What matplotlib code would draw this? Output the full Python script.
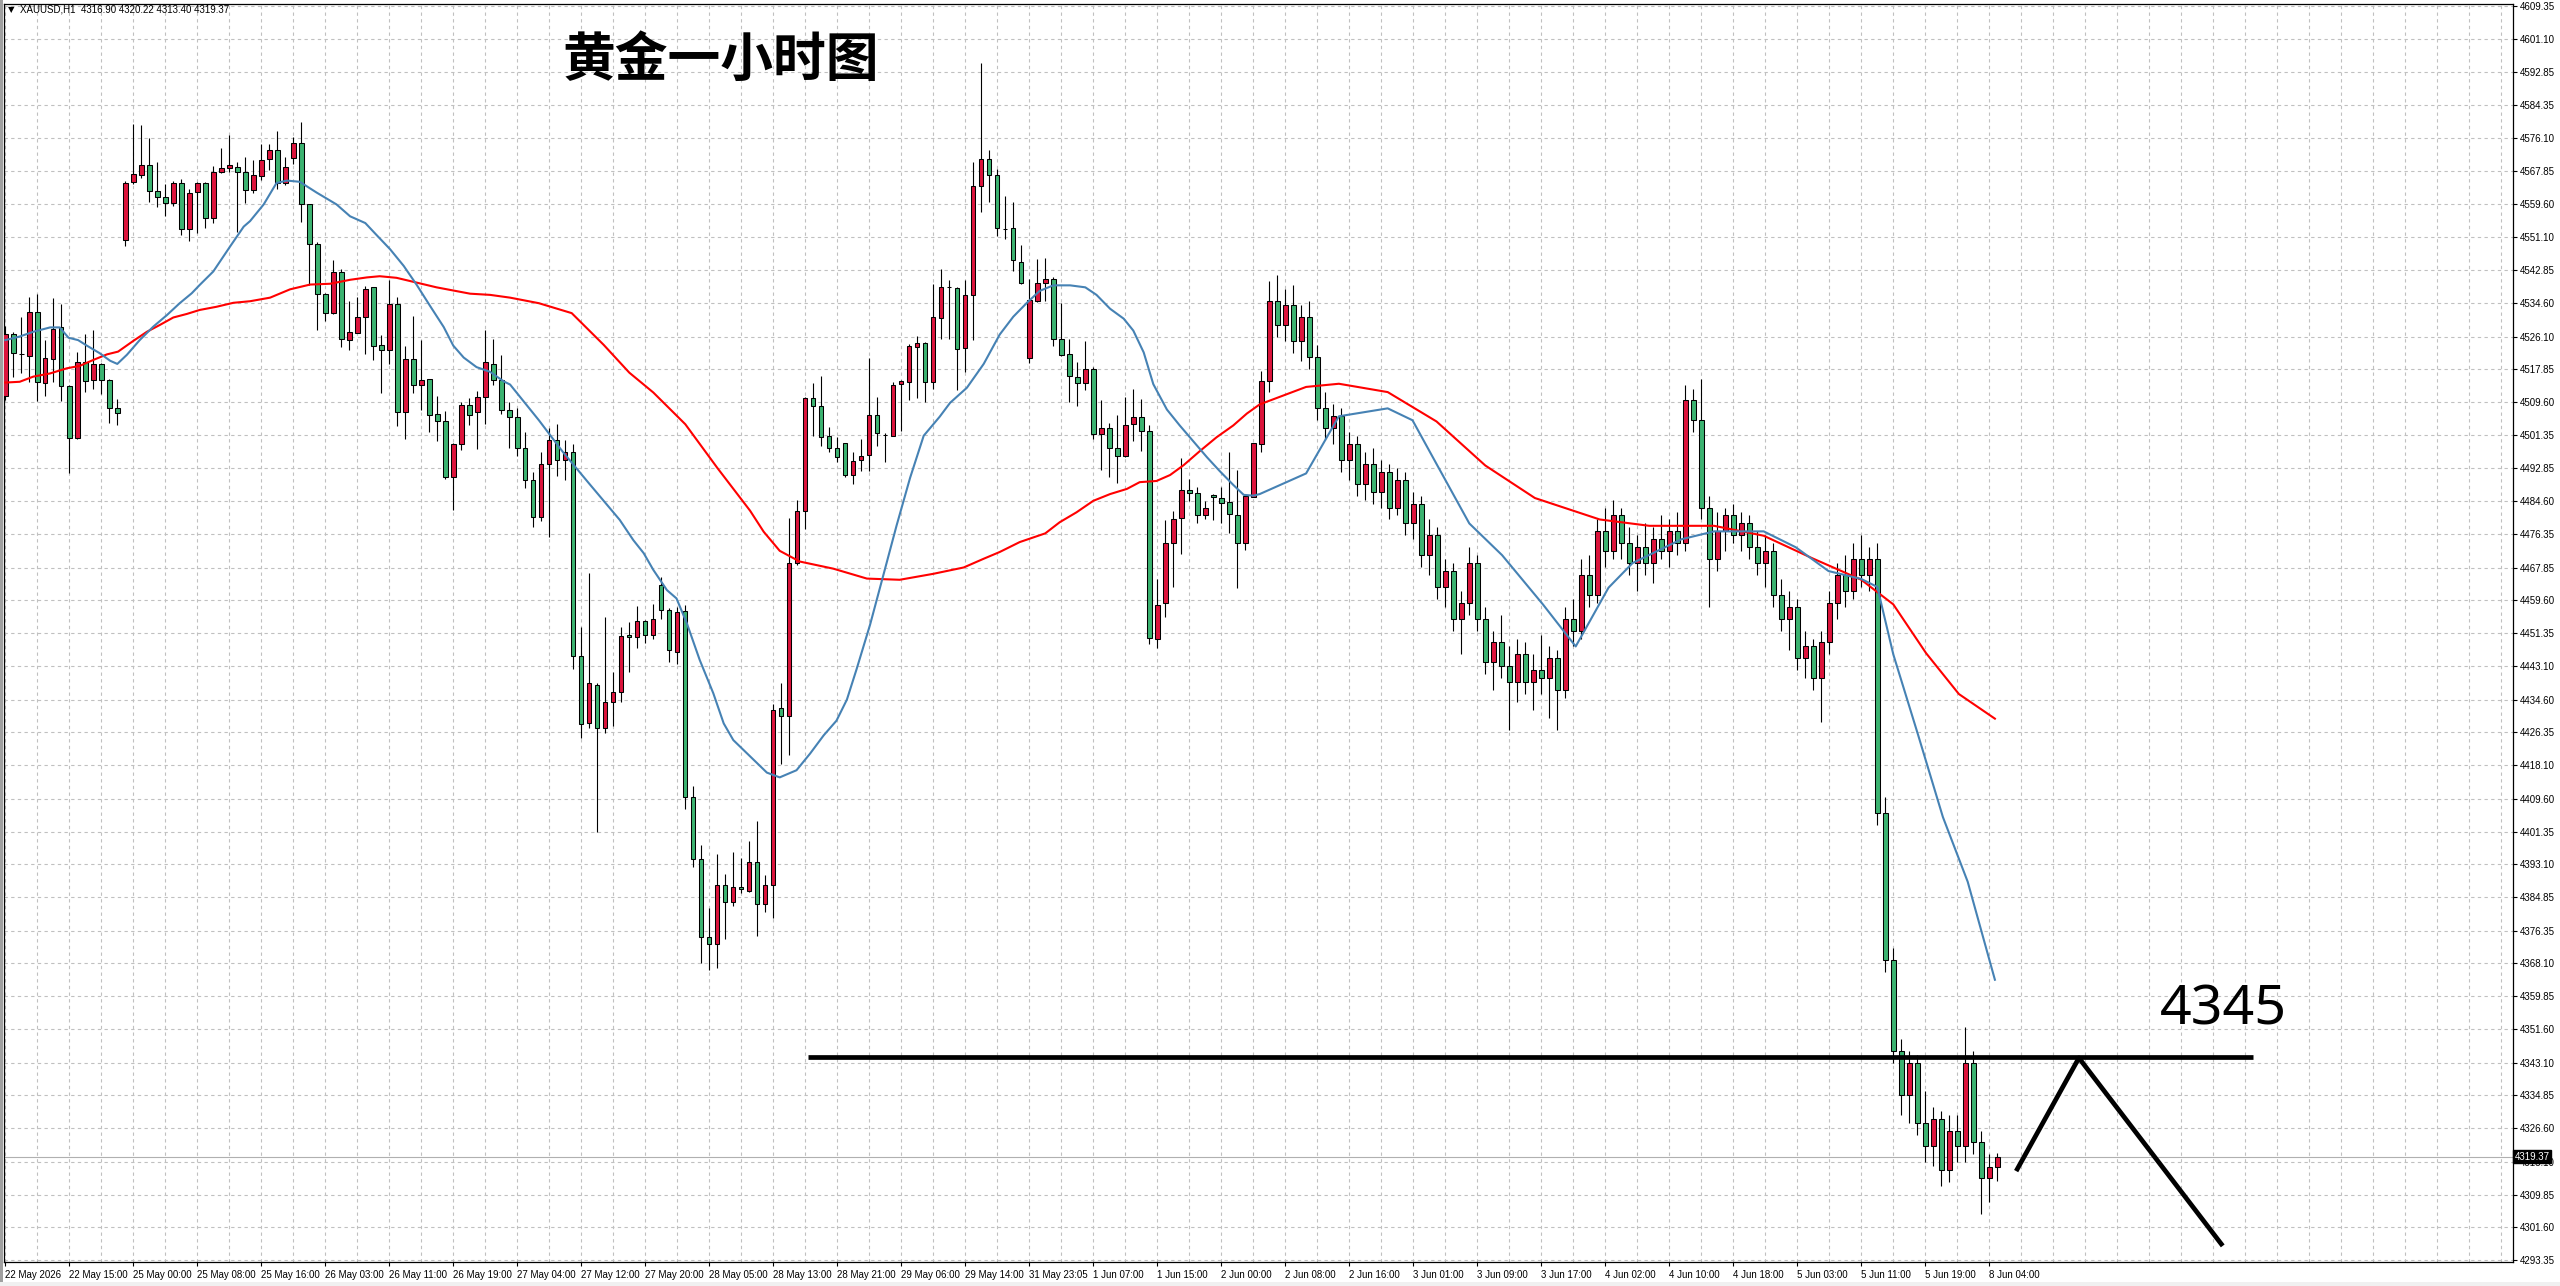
import matplotlib
matplotlib.use("Agg")
import matplotlib.pyplot as plt
import matplotlib.transforms as mtransforms
from matplotlib.patches import Rectangle

# hourly XAUUSD bars (open, high, low, close)
opens = [4511.1, 4526.7, 4521.7, 4521.3, 4532.2, 4514.3, 4520.4, 4528.4, 4513.6, 4500.5,
         4519.8, 4515.1, 4519.1, 4515.1, 4508.0, 4550.4, 4565.0, 4566.7, 4569.3, 4562.7,
         4561.2, 4559.7, 4564.7, 4553.2, 4562.5, 4564.7, 4555.9, 4567.5, 4568.5, 4568.9,
         4567.5, 4563.0, 4566.6, 4570.8, 4573.2, 4564.9, 4571.1, 4574.8, 4559.6, 4549.3,
         4536.8, 4532.1, 4542.4, 4525.2, 4527.1, 4530.9, 4538.5, 4524.0, 4522.6, 4534.4,
         4507.1, 4520.4, 4514.0, 4515.3, 4506.5, 4504.7, 4490.8, 4499.1, 4508.8, 4507.0,
         4510.8, 4519.3, 4515.1, 4507.7, 4505.7, 4498.0, 4490.0, 4480.5, 4494.0, 4500.0,
         4495.0, 4497.0, 4445.7, 4428.6, 4438.4, 4427.4, 4433.9, 4436.4, 4450.9, 4450.3,
         4454.4, 4450.9, 4463.4, 4457.3, 4446.7, 4457.0, 4410.0, 4394.4, 4374.7, 4372.9,
         4388.0, 4383.5, 4387.5, 4386.4, 4393.6, 4383.2, 4387.8, 4432.4, 4430.4, 4469.1,
         4482.2, 4510.6, 4508.7, 4501.1, 4497.9, 4499.3, 4491.1, 4495.1, 4496.3, 4506.4,
         4501.4, 4501.1, 4514.1, 4514.7, 4523.5, 4524.4, 4514.7, 4530.7, 4538.6, 4538.4,
         4523.2, 4536.6, 4564.1, 4570.9, 4566.7, 4553.2, 4553.4, 4545.0, 4520.6, 4535.1,
         4539.5, 4540.5, 4525.4, 4521.6, 4516.0, 4514.3, 4518.0, 4501.5, 4503.0, 4498.0,
         4495.9, 4504.0, 4505.9, 4502.2, 4449.9, 4459.0, 4474.0, 4480.3, 4487.4, 4486.6,
         4481.0, 4486.2, 4485.5, 4484.4, 4481.2, 4474.0, 4485.7, 4499.0, 4515.0, 4535.0,
         4529.0, 4534.0, 4525.0, 4531.0, 4521.0, 4508.0, 4503.0, 4506.0, 4495.0, 4499.0,
         4489.0, 4494.0, 4487.0, 4492.0, 4483.0, 4490.0, 4479.0, 4484.0, 4471.0, 4476.0,
         4463.0, 4467.0, 4455.0, 4459.0, 4469.0, 4455.0, 4444.0, 4449.0, 4443.0, 4439.0,
         4446.0, 4439.0, 4442.0, 4440.0, 4445.0, 4437.0, 4455.0, 4452.0, 4466.0, 4461.0,
         4477.0, 4472.0, 4481.0, 4474.0, 4469.0, 4473.0, 4469.0, 4475.0, 4472.0, 4477.0,
         4474.0, 4510.0, 4505.0, 4483.0, 4470.0, 4477.0, 4481.0, 4476.0, 4479.0, 4473.0,
         4469.0, 4472.0, 4461.0, 4455.0, 4458.0, 4445.0, 4448.0, 4440.0, 4449.0, 4459.0,
         4466.0, 4462.0, 4470.0, 4466.0, 4470.0, 4406.0, 4369.0, 4346.0, 4335.0, 4343.0,
         4328.0, 4322.0, 4329.0, 4316.0, 4326.0, 4322.0, 4343.0, 4323.0, 4314.0, 4316.90]
highs = [4528.8, 4527.3, 4531.0, 4536.0, 4536.8, 4525.2, 4535.7, 4534.3, 4513.8, 4522.1,
         4526.8, 4527.8, 4519.5, 4515.3, 4510.3, 4565.4, 4579.7, 4579.4, 4576.1, 4570.0,
         4564.6, 4565.4, 4565.7, 4563.2, 4565.1, 4565.1, 4569.1, 4573.5, 4576.9, 4570.2,
         4571.4, 4570.6, 4574.6, 4574.6, 4577.8, 4571.3, 4576.3, 4580.2, 4559.6, 4549.9,
         4537.0, 4545.4, 4543.0, 4535.0, 4536.1, 4538.8, 4538.5, 4526.4, 4540.4, 4536.0,
         4523.8, 4531.4, 4525.2, 4515.3, 4511.1, 4507.3, 4499.3, 4509.7, 4510.7, 4512.3,
         4527.7, 4525.6, 4521.4, 4509.5, 4508.0, 4502.0, 4492.0, 4497.0, 4503.0, 4504.0,
         4500.0, 4499.0, 4453.0, 4466.4, 4438.9, 4455.3, 4441.5, 4453.0, 4454.1, 4458.2,
         4454.7, 4458.7, 4465.4, 4457.6, 4457.9, 4458.4, 4412.8, 4398.0, 4382.2, 4395.7,
         4390.7, 4396.2, 4394.8, 4398.9, 4404.0, 4390.3, 4433.6, 4438.8, 4480.4, 4484.9,
         4510.8, 4514.4, 4516.2, 4503.4, 4500.7, 4499.3, 4496.9, 4500.4, 4520.7, 4510.9,
         4501.7, 4514.7, 4515.2, 4524.1, 4526.3, 4524.8, 4539.3, 4543.1, 4540.4, 4538.6,
         4540.4, 4570.2, 4595.1, 4573.2, 4568.3, 4561.5, 4560.0, 4549.2, 4540.5, 4545.7,
         4546.0, 4541.2, 4534.6, 4525.4, 4519.6, 4525.1, 4518.5, 4510.0, 4504.4, 4506.4,
         4510.8, 4512.8, 4510.3, 4503.7, 4465.0, 4479.8, 4482.2, 4495.5, 4490.2, 4488.2,
         4484.7, 4486.4, 4488.2, 4496.9, 4492.4, 4486.0, 4499.3, 4517.3, 4540.0, 4541.5,
         4538.0, 4539.0, 4534.0, 4535.0, 4524.0, 4512.0, 4509.0, 4508.0, 4502.0, 4501.0,
         4497.0, 4498.0, 4495.0, 4494.0, 4493.0, 4492.0, 4487.0, 4486.0, 4480.0, 4478.0,
         4470.0, 4469.0, 4462.0, 4473.0, 4471.0, 4458.0, 4452.0, 4456.0, 4448.0, 4450.0,
         4449.0, 4446.0, 4451.0, 4448.0, 4447.0, 4458.0, 4460.0, 4470.0, 4471.0, 4480.0,
         4483.0, 4485.0, 4483.0, 4478.0, 4476.0, 4479.0, 4478.0, 4481.0, 4480.0, 4482.0,
         4514.0, 4513.0, 4515.5, 4486.0, 4482.0, 4483.0, 4484.0, 4482.0, 4481.0, 4477.0,
         4476.0, 4474.0, 4465.0, 4462.0, 4460.0, 4452.0, 4450.0, 4452.0, 4462.0, 4469.0,
         4471.0, 4474.0, 4476.0, 4473.0, 4474.0, 4410.0, 4372.0, 4349.0, 4346.0, 4345.0,
         4336.0, 4332.0, 4331.0, 4330.0, 4330.0, 4352.0, 4346.0, 4326.0, 4320.0, 4320.22]
lows = [4510.1, 4516.0, 4516.8, 4514.7, 4509.9, 4511.2, 4514.7, 4509.9, 4491.6, 4500.2,
        4512.0, 4512.9, 4511.6, 4504.2, 4503.9, 4548.8, 4564.6, 4566.0, 4560.1, 4558.7,
        4556.6, 4559.1, 4551.8, 4550.3, 4552.3, 4553.4, 4554.8, 4567.2, 4567.5, 4552.5,
        4559.8, 4562.2, 4565.6, 4568.0, 4563.2, 4564.4, 4569.5, 4554.9, 4539.2, 4527.7,
        4529.9, 4531.8, 4523.4, 4522.8, 4527.0, 4521.6, 4520.2, 4511.9, 4519.2, 4503.5,
        4500.3, 4511.9, 4507.5, 4502.1, 4499.7, 4490.1, 4482.4, 4497.6, 4503.9, 4497.8,
        4504.1, 4514.0, 4506.7, 4497.9, 4496.0, 4488.0, 4478.0, 4479.7, 4475.7, 4491.0,
        4490.0, 4442.3, 4424.8, 4427.4, 4401.2, 4426.1, 4428.0, 4434.1, 4441.5, 4447.5,
        4448.8, 4450.0, 4454.9, 4444.0, 4443.6, 4407.0, 4392.5, 4368.3, 4366.5, 4367.0,
        4374.2, 4382.7, 4385.8, 4386.2, 4375.1, 4381.0, 4379.5, 4418.3, 4420.7, 4468.6,
        4477.7, 4501.1, 4498.5, 4496.9, 4494.6, 4490.8, 4488.9, 4492.3, 4492.3, 4498.4,
        4494.6, 4501.0, 4502.3, 4510.2, 4510.5, 4509.7, 4512.9, 4525.6, 4525.6, 4512.6,
        4517.1, 4525.3, 4557.5, 4560.0, 4551.4, 4550.7, 4542.7, 4539.3, 4519.4, 4534.9,
        4535.1, 4523.8, 4521.1, 4509.6, 4508.6, 4512.6, 4500.2, 4492.4, 4490.7, 4489.2,
        4495.8, 4499.7, 4497.2, 4448.7, 4447.7, 4455.3, 4463.1, 4471.3, 4484.7, 4479.1,
        4480.1, 4479.8, 4479.1, 4476.5, 4462.8, 4472.3, 4485.6, 4497.0, 4512.0, 4526.0,
        4525.0, 4522.0, 4520.0, 4518.0, 4505.0, 4500.0, 4499.0, 4492.0, 4490.0, 4486.0,
        4485.0, 4484.0, 4483.0, 4480.0, 4481.0, 4476.0, 4475.0, 4468.0, 4466.0, 4460.0,
        4458.0, 4452.0, 4446.0, 4456.0, 4452.0, 4441.0, 4437.0, 4440.0, 4427.0, 4434.0,
        4436.0, 4432.0, 4436.0, 4430.0, 4427.0, 4435.0, 4448.0, 4450.0, 4458.0, 4459.0,
        4468.0, 4470.0, 4470.0, 4466.0, 4462.0, 4466.0, 4464.0, 4470.0, 4468.0, 4471.0,
        4472.0, 4502.0, 4480.0, 4458.0, 4467.0, 4472.0, 4474.0, 4472.0, 4470.0, 4466.0,
        4463.0, 4458.0, 4452.0, 4447.0, 4442.0, 4440.0, 4437.0, 4429.0, 4446.0, 4455.0,
        4458.0, 4460.0, 4463.0, 4462.0, 4403.0, 4366.0, 4343.0, 4330.0, 4328.0, 4325.0,
        4318.0, 4317.0, 4312.0, 4313.0, 4318.0, 4318.0, 4320.0, 4305.0, 4308.0, 4313.40]
closes = [4526.7, 4521.9, 4521.8, 4532.2, 4514.6, 4520.6, 4527.9, 4513.6, 4500.5, 4519.8,
          4514.8, 4519.1, 4515.1, 4508.0, 4506.8, 4564.7, 4567.0, 4569.3, 4562.7, 4561.2,
          4559.7, 4564.7, 4553.2, 4562.2, 4564.7, 4555.9, 4567.5, 4568.5, 4569.3, 4567.5,
          4563.0, 4566.7, 4570.7, 4573.2, 4564.9, 4568.9, 4574.8, 4559.4, 4549.3, 4536.8,
          4532.1, 4542.4, 4525.4, 4527.3, 4531.0, 4538.0, 4523.8, 4522.6, 4534.4, 4507.1,
          4520.4, 4513.8, 4515.1, 4506.3, 4504.7, 4490.8, 4499.1, 4508.8, 4506.3, 4510.8,
          4519.6, 4515.1, 4507.7, 4505.7, 4498.0, 4490.0, 4480.5, 4494.0, 4500.0, 4495.0,
          4497.0, 4445.7, 4428.4, 4438.7, 4427.4, 4433.9, 4436.4, 4450.7, 4450.3, 4454.4,
          4450.9, 4454.8, 4457.3, 4447.1, 4456.8, 4410.0, 4394.4, 4374.7, 4372.9, 4387.8,
          4383.5, 4387.3, 4386.8, 4393.6, 4383.0, 4387.8, 4432.1, 4430.4, 4469.1, 4482.2,
          4510.6, 4508.7, 4500.9, 4497.9, 4495.7, 4491.1, 4494.8, 4496.0, 4506.4, 4501.7,
          4501.4, 4513.9, 4515.0, 4523.8, 4524.5, 4514.7, 4531.0, 4538.6, 4538.6, 4522.9,
          4536.6, 4564.1, 4570.9, 4566.7, 4553.4, 4553.2, 4545.5, 4539.7, 4535.3, 4539.5,
          4540.5, 4525.4, 4521.4, 4516.1, 4514.3, 4518.0, 4501.5, 4503.0, 4498.0, 4495.9,
          4503.7, 4505.9, 4502.2, 4450.1, 4458.5, 4474.0, 4480.1, 4487.4, 4486.6, 4481.0,
          4483.0, 4485.7, 4484.2, 4481.5, 4474.0, 4485.9, 4499.2, 4515.0, 4535.0, 4529.0,
          4534.0, 4525.0, 4531.0, 4521.0, 4508.0, 4503.0, 4506.0, 4495.0, 4499.0, 4489.0,
          4494.0, 4487.0, 4492.0, 4483.0, 4490.0, 4479.0, 4484.0, 4471.0, 4476.0, 4463.0,
          4467.0, 4455.0, 4459.0, 4469.0, 4455.0, 4444.0, 4449.0, 4443.0, 4439.0, 4446.0,
          4439.0, 4442.0, 4440.0, 4445.0, 4437.0, 4455.0, 4452.0, 4466.0, 4461.0, 4477.0,
          4472.0, 4481.0, 4474.0, 4469.0, 4473.0, 4469.0, 4475.0, 4472.0, 4477.0, 4474.0,
          4510.0, 4505.0, 4483.0, 4470.0, 4477.0, 4481.0, 4476.0, 4479.0, 4473.0, 4469.0,
          4472.0, 4461.0, 4455.0, 4458.0, 4445.0, 4448.0, 4440.0, 4449.0, 4459.0, 4466.0,
          4462.0, 4470.0, 4466.0, 4470.0, 4406.0, 4369.0, 4346.0, 4335.0, 4343.0, 4328.0,
          4322.0, 4329.0, 4316.0, 4326.0, 4322.0, 4343.0, 4323.0, 4314.0, 4316.9, 4319.37]

# moving averages sampled along the chart (bar index, price)
ma_fast_x = [0, 1.8, 3.5, 5.6, 6.8, 7.9, 9.1, 10.2, 11.8, 13.1, 14, 15.2, 16.8, 18.5, 20.2,
             21.8, 23.3, 24.3, 26, 28.1, 29.8, 30.6, 32.3, 33.9, 35.2, 36.8, 38.9, 41.4, 43.1,
             45, 46.4, 48.1, 49.8, 51.4, 53.1, 54.8, 56, 57.3, 58.9, 60.6, 62.3, 63.1, 66.7,
             69.7, 73, 76.8, 78.5, 79.8, 81, 82.7, 83.9, 85.2, 86.8, 88.5, 89.8, 91, 93.1,
             95.2, 96.8, 98.9, 100.6, 102.3, 103.9, 105.2, 106.4, 108.1, 109.8, 111.4, 113.1,
             114.8, 116.8, 118.1, 120.2, 122.3, 124.3, 126, 127.7, 129.3, 131, 133.1, 135,
             136.4, 138.1, 139.8, 141, 142.3, 143.5, 145.2, 146.8, 148.5, 150.2, 151.8, 153.5,
             154.8, 156, 156.8, 162.6, 166.7, 172.8, 175.9, 178.9, 183, 187.1, 192.2, 196.3,
             200.4, 203.4, 209.5, 213.6, 219.8, 223.8, 227.9, 232, 234, 236, 239.1, 242.2,
             245.3, 248.7]
ma_fast_y = [4525.2, 4526.1, 4527.3, 4528.4, 4528.4, 4525.8, 4525.2, 4523.8, 4521.9, 4520.0,
             4519.2, 4521.5, 4525.2, 4528.6, 4531.5, 4534.5, 4537.0, 4539.1, 4542.5, 4548.8,
             4553.8, 4555.2, 4559.4, 4564.8, 4565.4, 4565.1, 4562.4, 4559.4, 4556.4, 4554.7,
             4551.7, 4548.1, 4543.9, 4539.2, 4533.8, 4528.5, 4523.8, 4520.8, 4518.4, 4517.2,
             4514.8, 4514.0, 4505.0, 4497.0, 4489.0, 4479.9, 4474.8, 4471.5, 4467.3, 4462.2,
             4460.1, 4453.8, 4444.6, 4436.2, 4428.6, 4424.4, 4420.3, 4416.2, 4415.0, 4416.8,
             4421.0, 4425.6, 4429.3, 4434.6, 4442.2, 4453.5, 4466.3, 4478.4, 4490.5, 4501.1,
             4505.9, 4509.4, 4513.2, 4519.2, 4526.6, 4531.1, 4534.6, 4537.6, 4539.0, 4539.0,
             4538.5, 4536.6, 4533.1, 4530.6, 4527.6, 4522.1, 4514.1, 4507.7, 4503.7, 4499.7,
             4495.7, 4492.2, 4488.7, 4486.2, 4486.0, 4486.4, 4491.6, 4506.0, 4508.0, 4505.0,
             4494.0, 4479.0, 4471.0, 4458.6, 4448.0, 4462.8, 4469.0, 4475.0, 4477.0, 4477.0,
             4473.0, 4467.0, 4465.0, 4463.0, 4446.0, 4425.7, 4405.0, 4388.7, 4364.0]
ma_slow_x = [0, 1.8, 3.5, 5.6, 7.7, 9.3, 11, 12.7, 14.1, 16, 17.7, 19.3, 21, 22.7, 24.3, 26.4,
             28.5, 30.6, 33.1, 35.6, 38.1, 40.6, 43.1, 45.2, 46.8, 48.9, 51.4, 53.9, 56, 58.1,
             60.6, 63.1, 66.7, 70.8, 74.8, 78, 81, 85, 89, 93.1, 94.8, 96.8, 99.3, 103.5,
             107.7, 111.8, 116, 119.8, 122.3, 124.3, 126.8, 130, 131.8, 133.9, 136, 138.1,
             140.2, 141.8, 143.9, 145.6, 147.3, 149.3, 151.4, 153.5, 155.2, 156.8, 162.6,
             166.7, 172.8, 178.9, 185, 191.2, 199.3, 205.5, 213.6, 219.8, 225.9, 232, 236,
             240.1, 244.2, 248.7]
ma_slow_y = [4514.5, 4514.7, 4516.0, 4516.8, 4518.1, 4518.7, 4520.2, 4521.6, 4522.3, 4525.0,
             4527.3, 4529.0, 4530.9, 4531.8, 4532.8, 4533.6, 4534.6, 4535.0, 4535.9, 4538.0,
             4539.2, 4539.4, 4540.4, 4541.0, 4541.3, 4540.9, 4539.7, 4538.5, 4537.7, 4536.9,
             4536.6, 4535.9, 4534.5, 4532.0, 4524.0, 4517.0, 4512.0, 4504.0, 4493.0, 4482.2,
             4476.9, 4472.1, 4469.4, 4467.6, 4465.1, 4464.8, 4466.3, 4467.9, 4470.1, 4471.8,
             4474.3, 4476.5, 4479.3, 4481.8, 4484.7, 4486.4, 4487.7, 4489.4, 4489.7, 4491.2,
             4493.7, 4497.2, 4500.7, 4503.7, 4506.7, 4509.0, 4513.4, 4514.2, 4512.1, 4504.7,
             4493.6, 4485.4, 4480.0, 4478.4, 4478.4, 4475.9, 4470.2, 4464.8, 4458.6, 4446.3,
             4436.0, 4429.8]

price_labels = [4609.35, 4601.10, 4592.85, 4584.35, 4576.10, 4567.85, 4559.60, 4551.10,
                4542.85, 4534.60, 4526.10, 4517.85, 4509.60, 4501.35, 4492.85, 4484.60,
                4476.35, 4467.85, 4459.60, 4451.35, 4443.10, 4434.60, 4426.35, 4418.10,
                4409.60, 4401.35, 4393.10, 4384.85, 4376.35, 4368.10, 4359.85, 4351.60,
                4343.10, 4334.85, 4326.60, 4318.10, 4309.85, 4301.60, 4293.35]
time_labels = ['22 May 2026', '22 May 15:00', '25 May 00:00', '25 May 08:00', '25 May 16:00',
               '26 May 03:00', '26 May 11:00', '26 May 19:00', '27 May 04:00', '27 May 12:00',
               '27 May 20:00', '28 May 05:00', '28 May 13:00', '28 May 21:00', '29 May 06:00',
               '29 May 14:00', '31 May 23:05', '1 Jun 07:00', '1 Jun 15:00', '2 Jun 00:00',
               '2 Jun 08:00', '2 Jun 16:00', '3 Jun 01:00', '3 Jun 09:00', '3 Jun 17:00',
               '4 Jun 02:00', '4 Jun 10:00', '4 Jun 18:00', '5 Jun 03:00', '5 Jun 11:00',
               '5 Jun 19:00', '8 Jun 04:00']
last_price = 4319.37
header = "XAUUSD,H1  4316.90 4320.22 4313.40 4319.37"

# hand drawn analysis on the chart (bar index / price)
level_price = 4344.5
level_from, level_to = 100.3, 281.0
path_x = [251.5, 259.2, 277.0]
path_y = [4316.3, 4344.3, 4297.4]

W, H = 2560, 1286
fig = plt.figure(figsize=(W / 100, H / 100), dpi=100)
fig.patch.set_facecolor("white")
ax = fig.add_axes([4 / W, 1 - 1262 / H, (2513 - 4) / W, (1262 - 4) / H])

n = len(opens)
xs = list(range(n))
up_col, down_col = "#dc143c", "#3cb371"
colors = [up_col if c >= o else down_col for o, c in zip(opens, closes)]
bottoms = [min(o, c) for o, c in zip(opens, closes)]
heights = [abs(c - o) for o, c in zip(opens, closes)]

ax.vlines(xs, lows, highs, colors="black", linewidth=0.8, zorder=2)
ax.bar(xs, heights, bottom=bottoms, width=0.55, color=colors,
       edgecolor="black", linewidth=0.75, zorder=3)

ax.plot(ma_slow_x, ma_slow_y, color="#ff0000", linewidth=1.5, zorder=4)
ax.plot(ma_fast_x, ma_fast_y, color="#4682b4", linewidth=1.5, zorder=4)

ax.axhline(last_price, color="#b0b0b0", linewidth=0.8, zorder=1)

# analysis drawings
ax.plot([level_from, level_to], [level_price, level_price], color="black",
        linewidth=3.4, solid_capstyle="butt", zorder=5)
ax.plot(path_x, path_y, color="black", linewidth=3.4, zorder=5)

ax.set_xlim((4 - 5.3) / 8, (2513 - 5.3) / 8)
ax.set_ylim(4609.35 - (1262 - 6.2) / 3.968, 4609.35 + (6.2 - 4) / 3.968)

# grid: vertical every 4 bars, labels every 8 bars
ax.set_xticks(range(0, 8 * len(time_labels), 8))
ax.set_xticklabels(time_labels, ha="left")
ax.set_xticks(range(0, 316, 4), minor=True)
ax.set_yticks(price_labels)
ax.set_yticklabels(["%.2f" % p for p in price_labels])
ax.yaxis.tick_right()
ax.tick_params(axis="both", which="major", direction="out", length=3, width=0.8,
               labelsize=7, colors="black")
ax.tick_params(axis="x", which="major", pad=3)
ax.tick_params(axis="y", which="major", pad=2)
ax.tick_params(axis="x", which="minor", length=0)
for lab in ax.get_xticklabels() + ax.get_yticklabels():
    lab.set_fontfamily("Liberation Sans")
ax.grid(True, which="both", axis="x", color="#c0c0c0", linestyle=(0, (3, 3)), linewidth=0.8)
ax.grid(True, which="major", axis="y", color="#c0c0c0", linestyle=(0, (3, 3)), linewidth=0.8)
ax.set_axisbelow(True)
for sp in ax.spines.values():
    sp.set_color("black")
    sp.set_linewidth(0.9)

# current price tag on the price scale
trans = mtransforms.blended_transform_factory(ax.transAxes, ax.transData)
ax.text(1.0006, last_price, "4319.37", transform=trans, ha="left", va="center",
        fontsize=7, family="Liberation Sans", color="white",
        bbox=dict(boxstyle="square,pad=0.15", facecolor="black", edgecolor="black"),
        zorder=6, clip_on=False)

fig.text(8 / W, 1 - 10 / H, "\u25bc", fontsize=6, va="center", ha="left", color="black")
fig.text(20 / W, 1 - 10 / H, header, fontsize=7, family="Liberation Sans",
         va="center", ha="left", color="black")

fig.text(563 / W, 1 - 60 / H, "黄金一小时图", fontsize=38, fontweight="bold",
         family=["Noto Sans CJK SC", "DejaVu Sans"], va="center", ha="left")
fig.text(2160 / W, 1 - 1010 / H, "4345", fontsize=40, family="Noto Sans",
         va="center", ha="left")

# window frame bits
fig.patches.append(Rectangle((0, 0), 3 / W, 1, transform=fig.transFigure,
                             facecolor="#a0a0a0", edgecolor="none"))
fig.patches.append(Rectangle((0, 0), 1, 4 / H, transform=fig.transFigure,
                             facecolor="#f0f0f0", edgecolor="none"))

fig.savefig("out.png", dpi=100)
